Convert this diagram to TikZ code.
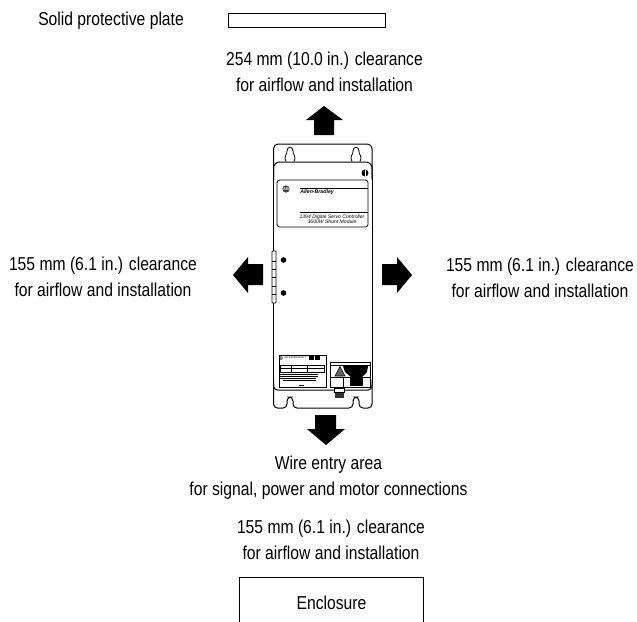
\documentclass[tikz,border=0pt]{standalone}
\usepackage{fontspec}
\setmainfont{Liberation Sans}
\newfontfamily\labelfont[FakeStretch=0.84]{Liberation Sans}
\tikzset{
  lbl/.style={align=center,font=\labelfont\fontsize{14pt}{19.5pt}\selectfont,inner sep=0pt,text=black},
  tiny/.style={font=\fontsize{3.8pt}{3.8pt}\selectfont\itshape,inner sep=0pt,align=center},
  micro/.style={font=\fontsize{2pt}{2.4pt}\selectfont,inner sep=0pt},
  blockarrow/.style={fill=black,draw=none},
  main line/.style={line width=0.75pt,draw=black}
}
\begin{document}
\begin{tikzpicture}[x=0.75pt,y=-0.75pt]
\useasboundingbox (0,0) rectangle (637,622);
% labels
\node[lbl,anchor=west] (plateLabel) at (38,21) {Solid protective plate};
\node[lbl] (topLabel) at (324.5,72) {254 mm (10.0 in.) clearance\\for airflow and installation};
\node[lbl] (leftLabel) at (103,277) {155 mm (6.1 in.) clearance\\for airflow and installation};
\node[lbl] (rightLabel) at (540,278) {155 mm (6.1 in.) clearance\\for airflow and installation};
\node[lbl] (wireLabel) at (328.5,478) {Wire entry area\\for signal, power and motor connections};
\node[lbl] (bottomLabel) at (331,540) {155 mm (6.1 in.) clearance\\for airflow and installation};
\node[lbl] (enclosureLabel) at (331.5,603) {Enclosure};
% plate
\draw[main line] (228,13) rectangle (385,27);
% enclosure
\draw[main line] (239,622) -- (239,577) -- (423,577) -- (423,622);
% arrows
\fill[blockarrow] (324,106) -- (343,120) -- (334,120) -- (334,135) -- (314,135) -- (314,120) -- (306,120) -- cycle;
\fill[blockarrow] (326,445) -- (345,429) -- (336,429) -- (336,415) -- (315,415) -- (315,429) -- (307,429) -- cycle;
\fill[blockarrow] (233,275) -- (248,257) -- (248,264) -- (263,264) -- (263,285) -- (248,285) -- (248,293) -- cycle;
\fill[blockarrow] (412,275) -- (397,257) -- (397,264) -- (382,264) -- (382,285) -- (397,285) -- (397,293) -- cycle;
% module outline
\draw[main line,rounded corners=3.5pt] (273.5,180) -- (273.5,144) -- (372,144) -- (372,180);
\draw[main line] (273.5,178) -- (273.5,384);
\draw[main line] (372,178) -- (372,384);
\draw[main line,rounded corners=4.5pt] (273.5,178) -- (273.5,162) -- (372,162) -- (372,178);
\draw[main line,rounded corners=3pt] (273.5,380) -- (273.5,390) -- (372,390) -- (372,380);
\draw[main line,rounded corners=3pt] (273.5,384) -- (273.5,408) -- (287,408) -- (287,397) -- (293,397) -- (293,408) -- (353,408) -- (353,397) -- (359,397) -- (359,408) -- (372,408) -- (372,384);
% keyholes
\foreach \kx in {290,356}{
  \draw[line width=0.6pt] (\kx-4,161.5) .. controls (\kx-7,156) and (\kx-2.5,155) .. (\kx-3,151)
     .. controls (\kx-3,146) and (\kx+3,146) .. (\kx+3,151)
     .. controls (\kx+2.5,155) and (\kx+7,156) .. (\kx+4,161.5);
}
% label plate
\draw[line width=0.6pt,rounded corners=2pt] (277,180) rectangle (368,227);
\fill (365,173) circle (3.5);
\fill[white] (364.6,169.5) rectangle (365.4,176.5);
\fill[black!75] (286,189) circle (3.6);
\node[font=\fontsize{3pt}{3pt}\selectfont\bfseries,text=white,inner sep=0pt] (logo) at (286,189) {AB};
\node[font=\fontsize{3.9pt}{4pt}\selectfont\bfseries\itshape,inner sep=0pt,anchor=west] (brand) at (300,192) {Allen-Bradley};
\draw[line width=0.6pt] (300,188.5) -- (368,188.5);
\draw[line width=0.6pt] (300,212) -- (368,212);
\node[tiny] (modelText) at (332,219.5) {1394 Digital Servo Controller\\3600W Shunt Module};
% hinge
\draw[line width=0.6pt,fill=white,rounded corners=0.5pt] (272,251) rectangle (276,303);
\foreach \hy in {261,269,277,286,294}{\draw[line width=0.6pt] (272,\hy) -- (276,\hy);}
\fill (283.5,260) circle (2.8);
\fill (283.5,293) circle (2.8);
% data label
\draw[line width=0.5pt] (279,355) rectangle (326,387);
\draw[line width=0.3pt] (281,358) circle (1.5);
\node[micro,anchor=west] (dataTitle) at (284,358) {ALLEN-BRADLEY};
\fill (309,355.5) rectangle (314,360);
\fill (315,355.5) rectangle (320,360);
\draw[line width=0.4pt] (280,365) rectangle (324,372);
\draw[line width=0.3pt] (280,368.5) -- (324,368.5);
\draw[line width=0.3pt] (291,365) -- (291,372);
\draw[line width=0.3pt] (307,365) -- (307,372);
\draw[line width=0.3pt] (280,374.5) -- (318,374.5);
\draw[line width=0.3pt] (280,376.5) -- (318,376.5);
\draw[line width=0.3pt] (280,378.5) -- (316,378.5);
\draw[line width=0.3pt] (283,380.5) -- (316,380.5);
\draw[line width=0.6pt] (299,385.5) -- (304,385.5);
% warning label
\draw[line width=0.5pt] (330,362) rectangle (370,387);
\fill (343,366) -- (368,366) -- (367,372) -- (362,377) -- (351,377) -- (345,372) -- cycle;
\fill (350,377) rectangle (363,386);
\draw[line width=0.4pt,fill=black!60] (335,376) -- (340,366.5) -- (345,376) -- cycle;
\draw[line width=0.4pt] (330,377) -- (370,377);
\draw[line width=0.4pt] (343,377) -- (343,387);
\draw[line width=0.4pt] (330,365.5) -- (370,365.5);
% connector tab
\fill[white] (334.5,388) rectangle (344.5,398);
\fill[black!80] (335,392.5) rectangle (344,398);
\draw[line width=0.5pt] (334.5,388) rectangle (344.5,392.5);
\end{tikzpicture}
\end{document}
